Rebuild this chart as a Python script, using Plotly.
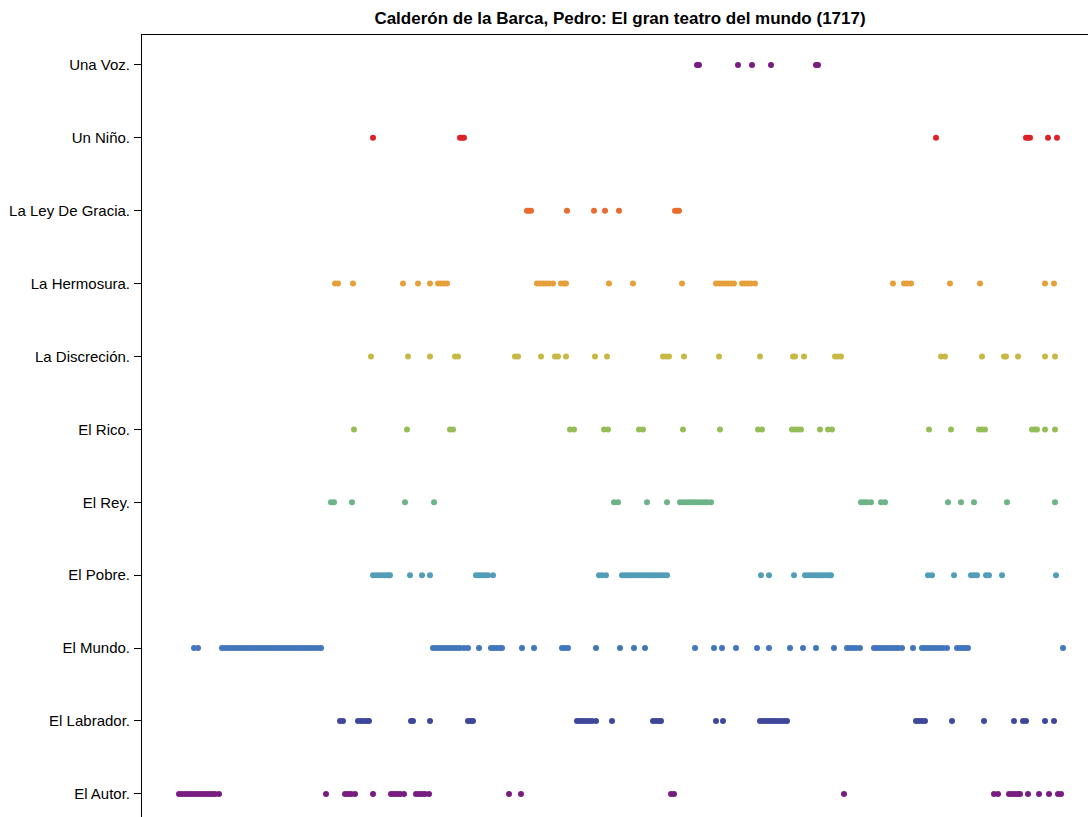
import plotly.graph_objects as go

# Characters from bottom to top of the chart
characters = [
    "El Autor.", "El Labrador.", "El Mundo.", "El Pobre.", "El Rey.", "El Rico.",
    "La Discreción.", "La Hermosura.", "La Ley De Gracia.", "Un Niño.", "Una Voz.",
]

# Position in the text of each speech (arbitrary units along the play)
el_autor = [37, 40, 43, 46, 49, 52, 55, 58, 61, 64, 67, 70, 73, 77, 184, 203, 206, 209, 213,
            231, 249, 252, 255, 258, 262, 274, 277, 280, 283, 287, 367, 379, 529, 532, 702,
            852, 856, 867, 870, 873, 876, 878, 886, 897, 907, 916, 919]
el_labrador = [198, 201, 216, 219, 222, 225, 227, 269, 271, 288, 326, 329, 331, 435, 438, 441,
               444, 447, 450, 454, 470, 511, 514, 517, 519, 574, 581, 618, 621, 624, 627, 630,
               633, 636, 639, 642, 645, 774, 777, 780, 783, 810, 842, 872, 881, 884, 903, 912]
el_mundo = [52, 56, 80, 83, 86, 89, 92, 95, 98, 101, 104, 107, 110, 113, 116, 119, 122, 125,
            128, 131, 134, 137, 140, 143, 146, 149, 152, 155, 158, 161, 164, 167, 170, 173,
            176, 179, 291, 294, 297, 300, 303, 306, 309, 312, 315, 318, 322, 326, 337, 349,
            352, 355, 358, 360, 380, 392, 420, 423, 426, 454, 478, 492, 503, 553, 572, 580,
            594, 615, 627, 648, 661, 674, 692, 705, 708, 711, 714, 718, 732, 735, 738, 741,
            744, 747, 750, 753, 756, 760, 771, 780, 783, 786, 789, 792, 795, 798, 801, 805,
            815, 818, 821, 824, 826, 921]
el_pobre = [231, 234, 237, 240, 243, 246, 248, 268, 280, 288, 334, 337, 340, 343, 346, 351,
            457, 460, 464, 480, 483, 486, 489, 492, 495, 498, 501, 504, 507, 510, 513, 516,
            519, 522, 525, 619, 627, 652, 663, 666, 669, 672, 675, 678, 681, 684, 687, 689,
            786, 790, 812, 829, 832, 835, 844, 847, 860, 914]
el_rey = [189, 192, 210, 263, 292, 472, 476, 505, 525, 538, 541, 544, 547, 550, 553, 556,
          559, 562, 565, 569, 719, 722, 725, 729, 739, 743, 806, 819, 832, 865, 913]
el_rico = [212, 265, 308, 311, 428, 432, 462, 466, 497, 501, 541, 578, 616, 620, 650, 653,
           656, 659, 678, 686, 690, 787, 809, 837, 840, 843, 890, 893, 895, 903, 913]
la_discrecion = [229, 266, 288, 313, 316, 373, 376, 399, 413, 416, 424, 453, 465, 521, 524,
                 527, 542, 577, 618, 651, 653, 662, 693, 696, 699, 799, 803, 840, 862, 864,
                 876, 903, 913]
la_hermosura = [193, 196, 211, 261, 276, 288, 296, 299, 302, 305, 395, 398, 401, 404, 407,
                411, 419, 422, 424, 467, 491, 540, 574, 577, 580, 583, 586, 589, 592, 600,
                603, 606, 609, 613, 751, 762, 765, 769, 808, 838, 903, 912]
la_ley_de_gracia = [385, 387, 389, 425, 452, 463, 477, 533, 535, 537]
un_nino = [231, 318, 320, 322, 794, 884, 886, 888, 906, 915]
una_voz = [555, 557, 596, 610, 629, 674, 676]

series = [el_autor, el_labrador, el_mundo, el_pobre, el_rey, el_rico,
          la_discrecion, la_hermosura, la_ley_de_gracia, un_nino, una_voz]

colors = ["#781C81", "#3F479B", "#4277BD", "#529DB7", "#6DB388", "#96BE58",
          "#C7B944", "#E6A03A", "#E96B2E", "#DC2127", "#781C81"]

fig = go.Figure()
for i, (name, xs) in enumerate(zip(characters, series)):
    fig.add_trace(go.Scatter(
        x=xs, y=[i] * len(xs), mode="markers", name=name,
        marker=dict(size=6, color=colors[i], line=dict(width=0)),
        showlegend=False, hoverinfo="x+name",
    ))

fig.update_layout(
    width=1088, height=817,
    margin=dict(l=142, r=0, t=35, b=0),
    plot_bgcolor="white", paper_bgcolor="white",
    font=dict(family="Liberation Sans, Arial, sans-serif", color="black"),
    title=dict(
        text="<b>Calderón de la Barca, Pedro: El gran teatro del mundo (1717)</b>",
        x=620 / 1088, xanchor="center",
        y=1 - 18 / 817, yanchor="middle",
        font=dict(size=17, color="black"),
    ),
    xaxis=dict(
        range=[0, 946], side="top", showline=True, linecolor="black", linewidth=1,
        showgrid=False, zeroline=False, showticklabels=False, ticks="",
    ),
    yaxis=dict(
        range=[-0.317, 10.41], tickmode="array",
        tickvals=list(range(len(characters))), ticktext=characters,
        showline=True, linecolor="black", linewidth=1,
        ticks="outside", ticklen=7, tickcolor="black", tickwidth=1,
        showgrid=False, zeroline=False, tickfont=dict(size=15, color="black"),
        ticklabelstandoff=1,
    ),
)

fig.write_html("out.html")
